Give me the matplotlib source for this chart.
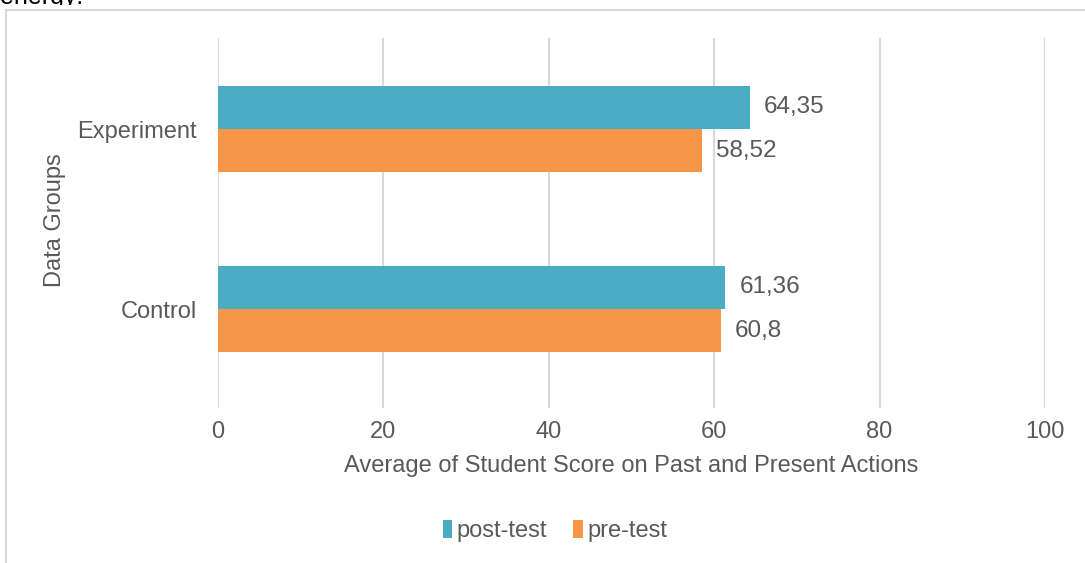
import matplotlib
matplotlib.use("Agg")
import matplotlib.pyplot as plt
from matplotlib.lines import Line2D
from matplotlib.transforms import Bbox, TransformedBbox
import numpy as np

plt.rcParams['font.family'] = ['Liberation Sans', 'DejaVu Sans']

groups = ["Control", "Experiment"]
post_test = [61.36, 64.35]
pre_test = [60.8, 58.52]
series_names = ["post-test", "pre-test"]
xticks = [0, 20, 40, 60, 80, 100]

teal = "#4BACC6"
orange = "#F79646"
grey_txt = "#595959"
grid_c = "#D9D9D9"

W, H = 1085, 563
fig = plt.figure(figsize=(W / 100, H / 100), dpi=100)
ax = fig.add_axes([218 / W, 1 - 408 / H, (1045 - 218) / W, (408 - 38) / H])

y = np.arange(len(groups))
bh = 0.24
b1 = ax.barh(y + bh / 2, post_test, height=bh, color=teal, label=series_names[0], zorder=3)
b2 = ax.barh(y - bh / 2, pre_test, height=bh, color=orange, label=series_names[1], zorder=3)

def fmt(v):
    return f"{v:g}".replace(".", ",")

ax.bar_label(b1, labels=[fmt(v) for v in post_test], padding=10, fontsize=17.5, color=grey_txt)
ax.bar_label(b2, labels=[fmt(v) for v in pre_test], padding=10, fontsize=17.5, color=grey_txt)

ax.set_xlim(0, 100)
ax.set_ylim(-0.55, 1.506)
ax.set_xticks(xticks)
ax.set_yticks(y)
ax.set_yticklabels(groups)
ax.grid(axis="x", color=grid_c, linewidth=1.5, zorder=0)
for s in ax.spines.values():
    s.set_visible(False)
ax.tick_params(axis="both", length=0, labelsize=17, labelcolor=grey_txt)
ax.tick_params(axis="x", pad=9)
ax.tick_params(axis="y", pad=15)

fig.text(631.5 / W, 1 - 466 / H, "Average of Student Score on Past and Present Actions",
         ha="center", va="center", fontsize=17, color=grey_txt)
fig.text(55 / W, 1 - 220 / H, "Data Groups", rotation=90,
         ha="center", va="center", fontsize=17, color=grey_txt)

fig.legend(loc="center", bbox_to_anchor=(555 / W, 1 - 531 / H), ncol=2, frameon=False,
           fontsize=17, labelcolor=grey_txt, handlelength=0.4, handleheight=0.8,
           handletextpad=0.2, columnspacing=1.1)

# chart area border (only top and left edges are inside the picture)
fig.add_artist(Line2D([6 / W, 6 / W], [0, 1 - 10 / H], transform=fig.transFigure,
                      color=grid_c, linewidth=1.5))
fig.add_artist(Line2D([6 / W, 1], [1 - 10 / H, 1 - 10 / H], transform=fig.transFigure,
                      color=grid_c, linewidth=1.5))

# cut-off line of body text above the chart
t = fig.text(0, 1 - 4 / H, "energy:", ha="left", va="baseline", fontsize=18, color="black")
t.set_clip_box(TransformedBbox(Bbox([[0, 1 - 5 / H], [0.3, 1]]), fig.transFigure))

fig.savefig("out.png", dpi=100)
